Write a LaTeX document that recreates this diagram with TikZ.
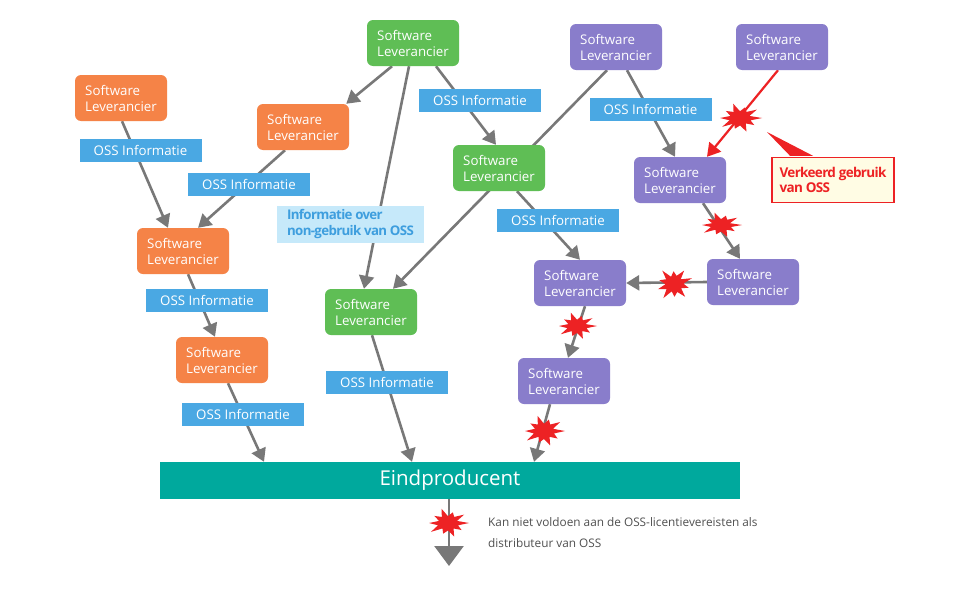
\documentclass[tikz,border=0pt]{standalone}
\usepackage{fontspec}
\setmainfont{Open Sans}
\newfontfamily\tightsans[LetterSpace=-5]{Open Sans}
\usetikzlibrary{arrows.meta,calc}
\definecolor{cOrange}{RGB}{245,131,71}
\definecolor{cGreen}{RGB}{95,190,85}
\definecolor{cPurple}{RGB}{137,125,203}
\definecolor{cTeal}{RGB}{0,169,157}
\definecolor{cBlue}{RGB}{74,168,227}
\definecolor{cLight}{RGB}{198,233,250}
\definecolor{cLightText}{RGB}{62,158,222}
\definecolor{cGrey}{RGB}{120,120,120}
\definecolor{cRed}{RGB}{237,34,36}
\definecolor{cCream}{RGB}{255,252,228}
\definecolor{cText}{RGB}{80,80,80}
\pgfdeclarelayer{bg}
\pgfsetlayers{bg,main}
\tikzset{
  burst/.pic={\fill[cRed] (0:1) -- (18:0.5) -- (36:0.8) -- (54:0.45) -- (72:0.95) -- (90:0.5) -- (108:0.75) -- (126:0.45) -- (144:1) -- (162:0.5) -- (180:0.9) -- (198:0.45) -- (216:0.8) -- (234:0.5) -- (252:1) -- (270:0.45) -- (288:0.75) -- (306:0.5) -- (324:0.95) -- (342:0.45) -- cycle;}
}
\begin{document}
\begin{tikzpicture}[x=1pt,y=-1pt,
  box/.style={rounded corners=6pt, minimum width=92pt, minimum height=46pt, inner sep=0pt, align=left, text=white, font=\fontsize{13.3}{16}\selectfont},
  info/.style={fill=cBlue, text=white, minimum width=122pt, minimum height=23pt, inner sep=0pt, font=\fontsize{13.3}{15}\selectfont},
  conn/.style={draw=cGrey, line width=2.6pt, -{Triangle[length=13pt,width=15pt]}},
  badconn/.style={draw=cRed, line width=2.2pt, -{Triangle[length=13pt,width=15pt]}}
]
\useasboundingbox (0,0) rectangle (963,597);
\begin{pgfonlayer}{bg}
\fill[white] (0,0) rectangle (963,597);
\end{pgfonlayer}

% boxes
\node[box,fill=cOrange] (O1) at (121,98) {Software\\Leverancier};
\node[box,fill=cOrange] (O2) at (303,127) {Software\\Leverancier};
\node[box,fill=cOrange] (O3) at (183,251) {Software\\Leverancier};
\node[box,fill=cOrange] (O4) at (222,360) {Software\\Leverancier};
\node[box,fill=cGreen] (G1) at (413,43) {Software\\Leverancier};
\node[box,fill=cGreen] (G2) at (499,168) {Software\\Leverancier};
\node[box,fill=cGreen] (G3) at (371,312) {Software\\Leverancier};
\node[box,fill=cPurple] (P1) at (616,47) {Software\\Leverancier};
\node[box,fill=cPurple] (P2) at (782,47) {Software\\Leverancier};
\node[box,fill=cPurple] (P3) at (680,180) {Software\\Leverancier};
\node[box,fill=cPurple] (P4) at (753,282) {Software\\Leverancier};
\node[box,fill=cPurple] (P5) at (580,283) {Software\\Leverancier};
\node[box,fill=cPurple] (P6) at (564,381) {Software\\Leverancier};
\node[fill=cTeal, text=white, minimum width=580pt, minimum height=37pt, inner sep=0pt, font=\fontsize{20.5}{24}\selectfont] (E) at (450,480.5) {Eindproducent};

% connectors
\begin{pgfonlayer}{bg}
\draw[conn] ([xshift=1pt]O1.south) -- ([xshift=-15pt]O3.north);
\draw[conn] ([xshift=-18pt]O2.south) -- ([xshift=15pt]O3.north);
\draw[conn] ([xshift=-21pt]G1.south) -- ([xshift=-3pt]O2.north east);
\draw[conn] ([xshift=-4pt]G1.south) -- ([xshift=-7pt]G3.north);
\draw[conn] ([xshift=23pt]G1.south) -- ([xshift=-3pt]G2.north);
\draw[conn] ([xshift=-9pt]P1.south) -- ([xshift=22pt]G3.north);
\draw[conn] ([xshift=18pt]G2.south) -- (P5.north);
\draw[conn] ([xshift=5pt]O3.south) -- ([xshift=-7pt]O4.north);
\draw[conn] ([xshift=6pt]O4.south) -- ([xshift=-186pt]E.north);
\draw[conn] ([xshift=1pt]G3.south) -- ([xshift=-38pt]E.north);
\draw[conn] ([xshift=11pt]P1.south) -- ([xshift=-5pt]P3.north);
\draw[badconn] ([xshift=-4pt]P2.south) -- ([xshift=27pt]P3.north);
\draw[conn] ([xshift=23pt]P3.south) -- ([xshift=-13pt]P4.north);
\draw[conn] (P4.west) -- (P5.east);
\draw[conn] ([xshift=5pt]P5.south) -- ([xshift=4pt]P6.north);
\draw[conn] ([xshift=-14pt]P6.south) -- ([xshift=84pt]E.north);
\coordinate (Eend) at (449,566);
\draw[draw=cGrey, line width=2.6pt, -{Triangle[length=20pt,width=29pt]}] ([xshift=-1pt]E.south) -- (Eend);
\end{pgfonlayer}

% labels
\node[info] (L1) at (140.5,150.5) {OSS Informatie};
\node[info] (L2) at (249,184) {OSS Informatie};
\node[info] (L3) at (480,100) {OSS Informatie};
\node[info] (L4) at (650.5,109) {OSS Informatie};
\node[info] (L5) at (558,220.5) {OSS Informatie};
\node[info] (L6) at (207,300.5) {OSS Informatie};
\node[info] (L7) at (387,382) {OSS Informatie};
\node[info] (L8) at (243,414) {OSS Informatie};
\node[fill=cLight, text=cLightText, minimum width=147pt, minimum height=37pt, inner sep=0pt, align=left, font=\tightsans\bfseries\fontsize{13.3}{16}\selectfont] (LN) at (350.5,224.5) {Informatie over\\non-gebruik van OSS};

% callout
\node[draw=cRed, line width=1.4pt, fill=cCream, text=cRed, minimum width=122pt, minimum height=45pt, inner sep=0pt, align=left, font=\tightsans\bfseries\fontsize{13.5}{15.5}\selectfont] (C) at (833,180) {Verkeerd gebruik\\van OSS\hspace*{54pt}};
\coordinate (Ctip) at (767,132);
\fill[cRed] (Ctip) -- ([xshift=-43pt,yshift=1pt]C.north) -- ([xshift=-20pt,yshift=1pt]C.north) -- cycle;

% bursts
\pic[xscale=22,yscale=15] at (740,118) {burst};
\pic[xscale=21,yscale=13] at (721,225) {burst};
\pic[xscale=19,yscale=17,rotate=20] at (674,284) {burst};
\pic[xscale=20,yscale=14] at (577,326) {burst};
\pic[xscale=21,yscale=16] at (544,431) {burst};
\pic[xscale=21,yscale=15] at (448,523) {burst};

% note
\node[anchor=west, align=left, text=cText, inner sep=0pt, font=\fontsize{11.8}{21}\selectfont] (N) at (488,532.5) {Kan niet voldoen aan de OSS-licentievereisten als\\distributeur van OSS};
\end{tikzpicture}
\end{document}
